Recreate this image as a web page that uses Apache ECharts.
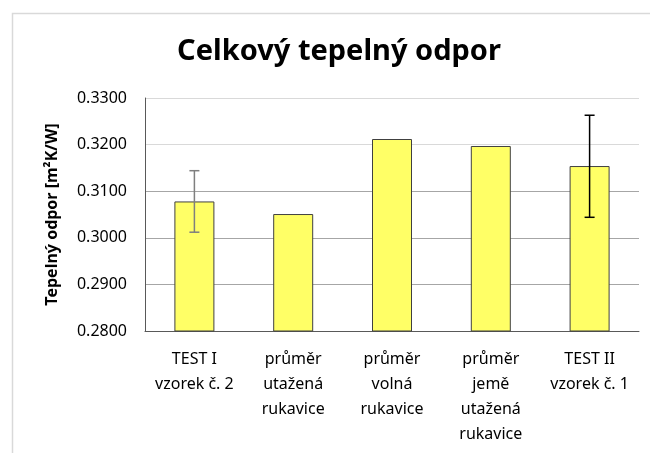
<!DOCTYPE html>
<html>
<head>
<meta charset="utf-8">
<script src="https://cdn.jsdelivr.net/npm/echarts@6/dist/echarts.min.js"></script>
<style>html,body{margin:0;padding:0;background:#fff}#c{width:650px;height:453px}</style>
</head>
<body>
<div id="c"></div>
<script>
var categories = ['TEST I\nvzorek č. 2', 'průměr\nutažená\nrukavice', 'průměr\nvolná\nrukavice', 'průměr\njemě\nutažená\nrukavice', 'TEST II\nvzorek č. 1'];
var values = [0.3078, 0.3051, 0.3212, 0.3197, 0.3154];
var errLow = [0.3012, null, null, null, 0.3044];
var errHigh = [0.3144, null, null, null, 0.3263];
var errColors = ['#7f7f7f', null, null, null, '#000000'];
var yTicks = [0.28, 0.29, 0.30, 0.31, 0.32, 0.33];

var errData = [];
for (var i = 0; i < categories.length; i++) {
  if (errLow[i] != null) errData.push([i, errLow[i], errHigh[i], errColors[i]]);
}

var FONT = 'Noto Sans';
var chart = echarts.init(document.getElementById('c'), null, {renderer: 'canvas'});
chart.setOption({
  animation: false,
  backgroundColor: '#fff',
  graphic: [{
    type: 'rect', left: 10, top: 11, shape: {width: 660, height: 460},
    style: {fill: 'none', stroke: '#d9d9d9', lineWidth: 1.5}, silent: true, z: -1
  }],
  title: {
    text: 'Celkový tepelný odpor', left: 334, top: 32, textAlign: 'center',
    textStyle: {fontFamily: FONT, fontWeight: 'bold', fontSize: 29, color: '#000'}
  },
  grid: {left: 145, right: 11, top: 98, bottom: 122, containLabel: false},
  xAxis: {
    type: 'category', data: categories,
    axisLine: {lineStyle: {color: '#595959', width: 1}},
    axisTick: {show: false},
    axisLabel: {
      interval: 0, margin: 16, color: '#000', fontFamily: FONT, fontSize: 16, lineHeight: 25
    }
  },
  yAxis: {
    type: 'value', min: yTicks[0], max: yTicks[yTicks.length - 1], interval: 0.01,
    name: 'Tepelný odpor [m²K/W]', nameLocation: 'middle', nameGap: 85, nameRotate: 90,
    nameTextStyle: {fontFamily: FONT, fontWeight: 'bold', fontSize: 16, color: '#000'},
    axisLine: {show: true, lineStyle: {color: '#595959', width: 1}},
    axisTick: {show: false},
    axisLabel: {
      margin: 18, color: '#000', fontFamily: FONT, fontSize: 16,
      formatter: function (v) { return v.toFixed(4); }
    },
    splitLine: {show: true, lineStyle: {color: ['#a6a6a6', '#a6a6a6', '#a6a6a6', '#a6a6a6', '#d9d9d9', '#d9d9d9'], width: 1}}
  },
  series: [{
    type: 'bar', data: values, barWidth: 40,
    itemStyle: {color: '#ffff66', borderColor: '#404040', borderWidth: 1}
  }, {
    type: 'custom', data: errData, z: 10,
    renderItem: function (params, api) {
      var x = api.value(0);
      var lo = api.coord([x, api.value(1)]);
      var hi = api.coord([x, api.value(2)]);
      var c = errData[params.dataIndex][3];
      var hw = 5;
      var st = {stroke: c, lineWidth: 1.5};
      return {type: 'group', children: [
        {type: 'line', shape: {x1: lo[0], y1: lo[1], x2: hi[0], y2: hi[1]}, style: st},
        {type: 'line', shape: {x1: lo[0] - hw, y1: lo[1], x2: lo[0] + hw, y2: lo[1]}, style: st},
        {type: 'line', shape: {x1: hi[0] - hw, y1: hi[1], x2: hi[0] + hw, y2: hi[1]}, style: st}
      ]};
    }
  }]
});
</script>
</body>
</html>
